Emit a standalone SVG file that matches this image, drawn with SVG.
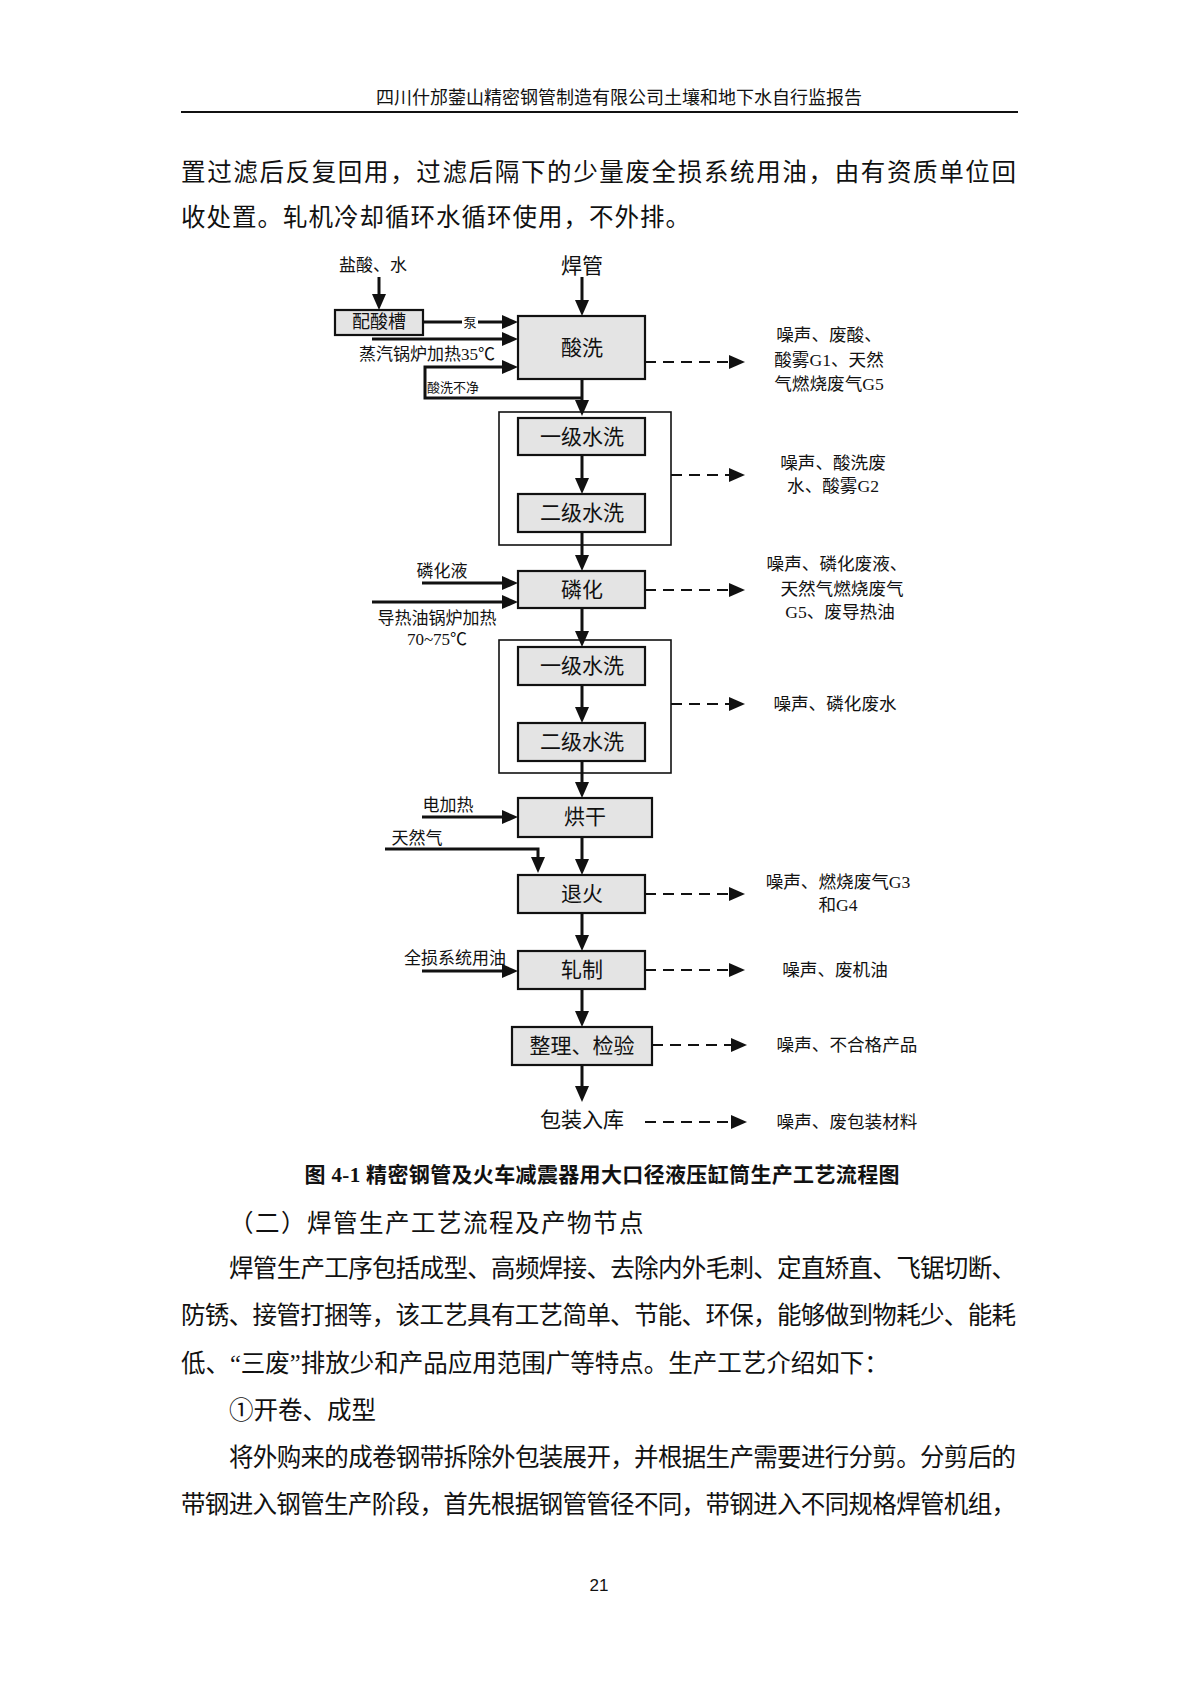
<svg xmlns="http://www.w3.org/2000/svg" width="1199" height="1696" viewBox="0 0 1199 1696">
<style>
text{font-family:"Liberation Serif","Noto Sans CJK SC",sans-serif;fill:#111}
.hd{font-size:18px}
.body{font-size:24.5px}
.cap{font-size:21px;font-weight:bold}
.nl{font-size:21px;text-anchor:middle;dominant-baseline:central}
.sl{font-size:17px;text-anchor:middle;dominant-baseline:central}
.rl{font-size:17.6px;text-anchor:middle;dominant-baseline:central}
.tl{font-size:13px;text-anchor:middle;dominant-baseline:central}
.box{fill:#e4e4e4;stroke:#111;stroke-width:2.2}
.grp{fill:#fff;stroke:#111;stroke-width:1.6}
.sol{fill:none;stroke:#111;stroke-width:3}
.dsh{fill:none;stroke:#111;stroke-width:2;stroke-dasharray:11 7}
.pg{font-family:"Liberation Sans",sans-serif;font-size:17px;text-anchor:middle}
</style>
<defs>
<marker id="ah" markerUnits="userSpaceOnUse" markerWidth="16" markerHeight="14" refX="6" refY="7" orient="auto"><path d="M0,0 L16,7 L0,14 z" fill="#111"/></marker>
<marker id="ahd" markerUnits="userSpaceOnUse" markerWidth="16" markerHeight="14" refX="6" refY="7" orient="auto"><path d="M0,0 L16,7 L0,14 z" fill="#111"/></marker>
</defs>
<rect width="1199" height="1696" fill="#fff"/>

<g id="page-text">
<text class="hd" x="619" y="104" text-anchor="middle">四川什邡蓥山精密钢管制造有限公司土壤和地下水自行监报告</text>
<line x1="181" y1="112" x2="1018" y2="112" stroke="#111" stroke-width="2"/>
<text class="body" x="181" y="181" textLength="835" lengthAdjust="spacing">置过滤后反复回用，过滤后隔下的少量废全损系统用油，由有资质单位回</text>
<text class="body" x="181" y="226" letter-spacing="1">收处置。轧机冷却循环水循环使用，不外排。</text>
<text class="cap" x="602" y="1182" text-anchor="middle" textLength="595" lengthAdjust="spacing">图 4-1 精密钢管及火车减震器用大口径液压缸筒生产工艺流程图</text>
<text class="body" x="229" y="1232" letter-spacing="1.5">（二）焊管生产工艺流程及产物节点</text>
<text class="body" x="229" y="1277" textLength="787" lengthAdjust="spacing">焊管生产工序包括成型、高频焊接、去除内外毛刺、定直矫直、飞锯切断、</text>
<text class="body" x="181" y="1324" textLength="835" lengthAdjust="spacing">防锈、接管打捆等，该工艺具有工艺简单、节能、环保，能够做到物耗少、能耗</text>
<text class="body" x="181" y="1372">低、“三废”排放少和产品应用范围广等特点。生产工艺介绍如下：</text>
<text class="body" x="229" y="1419">①开卷、成型</text>
<text class="body" x="229" y="1466" textLength="787" lengthAdjust="spacing">将外购来的成卷钢带拆除外包装展开，并根据生产需要进行分剪。分剪后的</text>
<text class="body" x="181" y="1513" textLength="835" lengthAdjust="spacing">带钢进入钢管生产阶段，首先根据钢管管径不同，带钢进入不同规格焊管机组，</text>
<text class="pg" x="599" y="1591">21</text>
</g>

<g id="groups">
<rect id="wash-group-1" class="grp" x="499" y="412" width="172" height="133"/>
<rect id="wash-group-2" class="grp" x="499" y="640" width="172" height="133"/>
</g>

<g id="connectors">
<line class="sol" x1="379" y1="277" x2="379" y2="300" marker-end="url(#ah)"/>
<line class="sol" x1="423" y1="322" x2="508" y2="322" marker-end="url(#ah)"/>
<line class="sol" x1="582" y1="277" x2="582" y2="306" marker-end="url(#ah)"/>
<line class="sol" x1="372" y1="339" x2="508" y2="339" marker-end="url(#ah)"/>
<path class="sol" d="M582,398 H425 V367 H508" marker-end="url(#ah)"/>
<line class="sol" x1="582" y1="379" x2="582" y2="406" marker-end="url(#ah)"/>
<line class="sol" x1="582" y1="455" x2="582" y2="484" marker-end="url(#ah)"/>
<line class="sol" x1="582" y1="532" x2="582" y2="561" marker-end="url(#ah)"/>
<line class="sol" x1="422" y1="583" x2="508" y2="583" marker-end="url(#ah)"/>
<line class="sol" x1="372" y1="602" x2="508" y2="602" marker-end="url(#ah)"/>
<line class="sol" x1="582" y1="608" x2="582" y2="637" marker-end="url(#ah)"/>
<line class="sol" x1="582" y1="685" x2="582" y2="713" marker-end="url(#ah)"/>
<line class="sol" x1="582" y1="761" x2="582" y2="788" marker-end="url(#ah)"/>
<line class="sol" x1="422" y1="817" x2="508" y2="817" marker-end="url(#ah)"/>
<path class="sol" d="M385,849 H538 V863" marker-end="url(#ah)"/>
<line class="sol" x1="582" y1="837" x2="582" y2="865" marker-end="url(#ah)"/>
<line class="sol" x1="582" y1="913" x2="582" y2="941" marker-end="url(#ah)"/>
<line class="sol" x1="422" y1="971" x2="508" y2="971" marker-end="url(#ah)"/>
<line class="sol" x1="582" y1="989" x2="582" y2="1017" marker-end="url(#ah)"/>
<line class="sol" x1="582" y1="1065" x2="582" y2="1092" marker-end="url(#ah)"/>

<line class="dsh" x1="645" y1="362" x2="735" y2="362" marker-end="url(#ahd)"/>
<line class="dsh" x1="671" y1="475" x2="735" y2="475" marker-end="url(#ahd)"/>
<line class="dsh" x1="645" y1="590" x2="735" y2="590" marker-end="url(#ahd)"/>
<line class="dsh" x1="671" y1="704" x2="735" y2="704" marker-end="url(#ahd)"/>
<line class="dsh" x1="645" y1="894" x2="735" y2="894" marker-end="url(#ahd)"/>
<line class="dsh" x1="645" y1="970" x2="735" y2="970" marker-end="url(#ahd)"/>
<line class="dsh" x1="652" y1="1045" x2="737" y2="1045" marker-end="url(#ahd)"/>
<line class="dsh" x1="645" y1="1122" x2="737" y2="1122" marker-end="url(#ahd)"/>

<rect x="462" y="314" width="16" height="16" fill="#fff"/>
<text class="tl" x="470" y="322">泵</text>
<text class="tl" x="453" y="387">酸洗不净</text>
</g>

<g id="n-input-acid"><text class="sl" x="373" y="265">盐酸、水</text></g>
<g id="n-acid-tank"><rect class="box" x="335" y="310" width="88" height="25"/><text class="sl" x="379" y="322" style="font-size:18px">配酸槽</text></g>
<g id="n-input-pipe"><text class="nl" x="582" y="266">焊管</text></g>
<g id="n-steam"><text class="sl" x="427" y="354">蒸汽锅炉加热35℃</text></g>
<g id="n-pickling"><rect class="box" x="518" y="316" width="127" height="63"/><text class="nl" x="582" y="348">酸洗</text></g>
<g id="n-out-pickling"><text class="rl" x="829" y="335">噪声、废酸、</text><text class="rl" x="829" y="360">酸雾G1、天然</text><text class="rl" x="829" y="384">气燃烧废气G5</text></g>

<g id="n-wash1a"><rect class="box" x="518" y="418" width="127" height="37"/><text class="nl" x="582" y="437">一级水洗</text></g>
<g id="n-wash2a"><rect class="box" x="518" y="494" width="127" height="38"/><text class="nl" x="582" y="513">二级水洗</text></g>
<g id="n-out-wash-a"><text class="rl" x="833" y="463">噪声、酸洗废</text><text class="rl" x="833" y="486">水、酸雾G2</text></g>

<g id="n-phos-liquid"><text class="sl" x="442" y="571">磷化液</text></g>
<g id="n-oil-boiler"><text class="sl" x="437" y="618">导热油锅炉加热</text><text class="sl" x="437" y="639">70~75℃</text></g>
<g id="n-phosphating"><rect class="box" x="518" y="571" width="127" height="37"/><text class="nl" x="582" y="590">磷化</text></g>
<g id="n-out-phos"><text class="rl" x="837" y="564">噪声、磷化废液、</text><text class="rl" x="842" y="589">天然气燃烧废气</text><text class="rl" x="840" y="612">G5、废导热油</text></g>

<g id="n-wash1b"><rect class="box" x="518" y="647" width="127" height="38"/><text class="nl" x="582" y="666">一级水洗</text></g>
<g id="n-wash2b"><rect class="box" x="518" y="723" width="127" height="38"/><text class="nl" x="582" y="742">二级水洗</text></g>
<g id="n-out-wash-b"><text class="rl" x="835" y="704">噪声、磷化废水</text></g>

<g id="n-electric"><text class="sl" x="448" y="805">电加热</text></g>
<g id="n-gas"><text class="sl" x="417" y="838">天然气</text></g>
<g id="n-drying"><rect class="box" x="518" y="798" width="134" height="39"/><text class="nl" x="585" y="817">烘干</text></g>

<g id="n-annealing"><rect class="box" x="518" y="875" width="127" height="38"/><text class="nl" x="582" y="894">退火</text></g>
<g id="n-out-anneal"><text class="rl" x="838" y="882">噪声、燃烧废气G3</text><text class="rl" x="838" y="905">和G4</text></g>

<g id="n-oil"><text class="sl" x="455" y="958">全损系统用油</text></g>
<g id="n-rolling"><rect class="box" x="518" y="951" width="127" height="38"/><text class="nl" x="582" y="970">轧制</text></g>
<g id="n-out-rolling"><text class="rl" x="835" y="970">噪声、废机油</text></g>

<g id="n-inspect"><rect class="box" x="512" y="1027" width="140" height="38"/><text class="nl" x="582" y="1046">整理、检验</text></g>
<g id="n-out-inspect"><text class="rl" x="847" y="1045">噪声、不合格产品</text></g>

<g id="n-packing"><text class="nl" x="582" y="1120">包装入库</text></g>
<g id="n-out-packing"><text class="rl" x="847" y="1122">噪声、废包装材料</text></g>
</svg>
